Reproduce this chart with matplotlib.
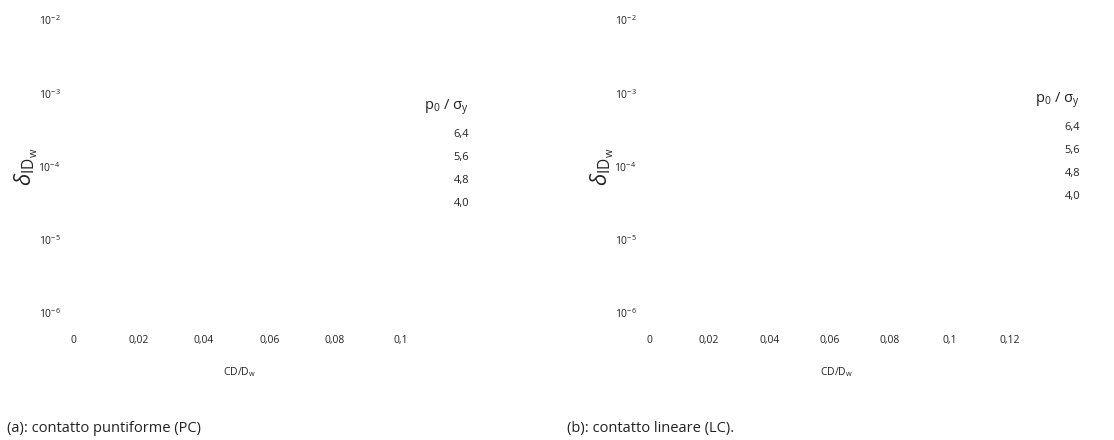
import math
import matplotlib
matplotlib.use('Agg')
import matplotlib.pyplot as plt
from matplotlib.ticker import FixedLocator, FuncFormatter

plt.rcParams['font.family'] = ['Open Sans', 'DejaVu Sans']
plt.rcParams['mathtext.fontset'] = 'custom'
plt.rcParams['mathtext.rm'] = 'Open Sans'
plt.rcParams['mathtext.it'] = 'Open Sans:italic'

# data: axes content (no curves are visible in the reference, only axes text)
y_ticks = [1e-6, 1e-5, 1e-4, 1e-3, 1e-2]
x_ticks_pc = [0, 0.02, 0.04, 0.06, 0.08, 0.1]
x_ticks_lc = [0, 0.02, 0.04, 0.06, 0.08, 0.1, 0.12]
ratios = ['6,4', '5,6', '4,8', '4,0']
captions = ['(a): contatto puntiforme (PC)', '(b): contatto lineare (LC).']

W, H = 1114, 440
fig = plt.figure(figsize=(W / 100, H / 100), dpi=100)


def px_axes(x0, x1, ytop, ybot):
    return fig.add_axes([x0 / W, 1 - ybot / H, (x1 - x0) / W, (ybot - ytop) / H])


def fmt_x(v, pos):
    if v == 0:
        return '0'
    return ('%g' % v).replace('.', ',')


def fmt_y(v, pos):
    e = int(round(math.log10(v)))
    return r'10$^{\mathregular{%d}}$' % e


def setup(ax, xticks, xmax, leg_anchor):
    ax.set_yscale('log')
    ax.set_ylim(1e-6, 1e-2)
    ax.set_xlim(0, xmax)
    for s in ax.spines.values():
        s.set_visible(False)
    ax.xaxis.set_major_locator(FixedLocator(xticks))
    ax.xaxis.set_major_formatter(FuncFormatter(fmt_x))
    ax.yaxis.set_major_locator(FixedLocator(y_ticks))
    ax.yaxis.set_minor_locator(FixedLocator([]))
    ax.yaxis.set_major_formatter(FuncFormatter(fmt_y))
    ax.tick_params(axis='both', length=0, labelsize=7.5, colors='#222222')
    ax.tick_params(axis='x', pad=16)
    ax.tick_params(axis='y', pad=9)
    ax.set_xlabel(r'CD/D$_{\mathregular{w}}$', fontsize=7.5, labelpad=14, color='#222222')
    ax.set_ylabel(r'$\delta_{\mathregular{ID}_{\mathregular{w}}}$', fontsize=16, labelpad=-1, color='#222222')
    for r in ratios:
        ax.plot([], [], label=r)
    leg = ax.legend(title=r'$\mathregular{p_0}$ / $\mathregular{\sigma_y}$',
                    loc='upper right', bbox_to_anchor=leg_anchor,
                    bbox_transform=fig.transFigure, frameon=False,
                    handlelength=0, handletextpad=0, markerfirst=False,
                    alignment='right', fontsize=8, title_fontsize=10.5,
                    labelspacing=1.1, borderpad=0, borderaxespad=0)
    for t in leg.get_texts():
        t.set_color('#222222')
    leg.get_title().set_color('#222222')


ax1 = px_axes(73, 407, 20, 313)
setup(ax1, x_ticks_pc, 0.102, (469 / W, 1 - 97 / H))
ax2 = px_axes(649, 1025, 20, 313)
setup(ax2, x_ticks_lc, 0.125, (1080 / W, 1 - 90 / H))

fig.text(7 / W, 1 - 428 / H, captions[0], fontsize=10.5, va='center', color='#222222')
fig.text(567 / W, 1 - 428 / H, captions[1], fontsize=10.5, va='center', color='#222222')

fig.savefig('out.png', dpi=100)
